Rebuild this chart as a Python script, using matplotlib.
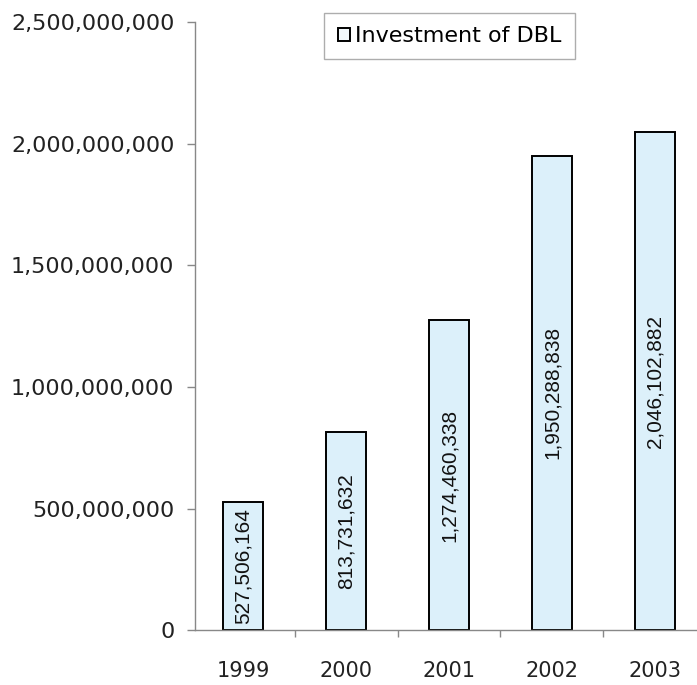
import numpy as np
import matplotlib.pyplot as plt
from matplotlib.ticker import FuncFormatter

years = ["1999", "2000", "2001", "2002", "2003"]
investment = [527506164, 813731632, 1274460338, 1950288838, 2046102882]
series_name = "Investment of DBL"

plt.rcParams['font.family'] = ['DejaVu Sans']

fig = plt.figure(figsize=(6.97, 6.85), dpi=100)
ax = fig.add_axes([0.280, 0.080, 0.720, 0.888])

x = np.arange(len(years))
bars = ax.bar(x, investment, width=0.39, color="#dcf0fa", edgecolor="black",
              linewidth=1.4, label=series_name)

# value labels in the middle of each bar, rotated
for xi, v in zip(x, investment):
    ax.text(xi, v / 2, f"{v:,}", rotation=90, ha="center", va="center",
            fontsize=15, color="#111111", family=["Liberation Sans", "DejaVu Sans"])

ax.set_xlim(-0.466, 4.41)
ax.set_ylim(0, 2500000000)
ax.set_yticks(np.arange(0, 2500000001, 500000000))
ax.yaxis.set_major_formatter(FuncFormatter(lambda v, p: f"{int(v):,}"))
ax.tick_params(axis="y", labelsize=16, length=6, width=1, color="#888888",
               pad=9, labelcolor="#222222")

# category labels under the bars, tick marks between categories
ax.set_xticks(x)
ax.set_xticklabels(years)
ax.tick_params(axis="x", which="major", length=0, labelsize=15, pad=22,
               labelcolor="#222222")
ax.set_xticks(np.arange(0.5, 4.5, 1.0), minor=True)
ax.tick_params(axis="x", which="minor", length=5, width=1, color="#888888")

for side in ["top", "right"]:
    ax.spines[side].set_visible(False)
for side in ["left", "bottom"]:
    ax.spines[side].set_color("#888888")
    ax.spines[side].set_linewidth(1)

leg = ax.legend(loc="upper center", bbox_to_anchor=(0.507, 1.015), fontsize=16,
                frameon=True, fancybox=False, borderaxespad=0,
                handlelength=0.55, handleheight=0.55, handletextpad=0.25,
                borderpad=0.6)
leg.get_frame().set_edgecolor("#999999")
leg.get_frame().set_linewidth(1)
leg.legend_handles[0].set_facecolor("#f2f8fb")

fig.savefig("out.png", dpi=100)
